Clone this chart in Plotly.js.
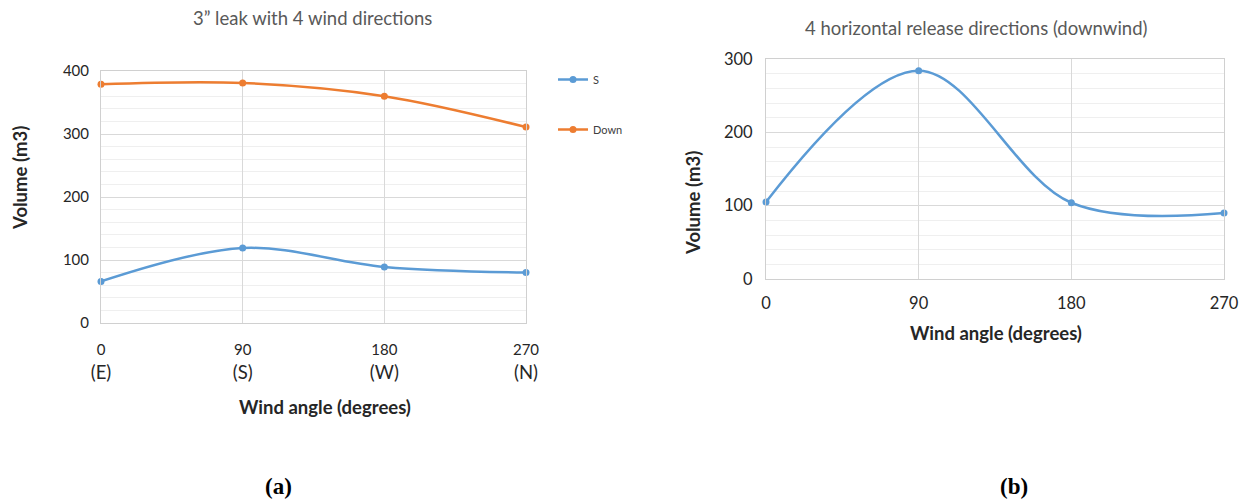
<!DOCTYPE html>
<html><head><meta charset="utf-8">
<script src="https://cdn.plot.ly/plotly-3.0.1.min.js"></script>
<style>html,body{margin:0;padding:0;background:#fff}#c{width:1247px;height:499px}</style>
</head><body><div id="c"></div>
<script>
// Data
const angles = [0, 90, 180, 270];
const angleLabels = ['0', '90', '180', '270'];
const dirLabels = ['(E)', '(S)', '(W)', '(N)'];
const seriesS = [66, 119, 89, 80];
const seriesDown = [379, 381, 360, 311];
const downwind = [105, 284, 104, 90];

const W = 1247, H = 499;
const px = v => v / W, py = v => 1 - v / H;

const FONT = 'Lato, "Open Sans", sans-serif';
const BLUE = '#5B9BD5', ORANGE = '#ED7D31';

const ticktextA = angleLabels.map((a, i) => '<span style="font-size:15px">' + a + '</span><br>' + dirLabels[i]);

const traces = [
  {x: angles, y: seriesS, name: 'S', legendgroup: 'g1', type: 'scatter', mode: 'lines+markers',
   line: {color: BLUE, width: 2.5, shape: 'spline', smoothing: 1}, marker: {color: BLUE, size: 7},
   xaxis: 'x', yaxis: 'y', cliponaxis: false},
  {x: angles, y: seriesDown, name: 'Down', legendgroup: 'g2', type: 'scatter', mode: 'lines+markers',
   line: {color: ORANGE, width: 2.5, shape: 'spline', smoothing: 1}, marker: {color: ORANGE, size: 7},
   xaxis: 'x', yaxis: 'y', cliponaxis: false},
  {x: angles, y: downwind, name: 'Downwind', type: 'scatter', mode: 'lines+markers', showlegend: false,
   line: {color: BLUE, width: 2.5, shape: 'spline', smoothing: 1}, marker: {color: BLUE, size: 7},
   xaxis: 'x2', yaxis: 'y2', cliponaxis: false}
];

const gridC = '#d9d9d9', minorC = '#efefef', lineC = '#d0d0d0';
const tickFontA = {family: FONT, size: 15, color: '#262626'};
const tickFontB = {family: FONT, size: 16.5, color: '#262626'};

const ann = (text, x, y, font, extra) => Object.assign({text, x: px(x), y: py(y), xref: 'paper', yref: 'paper',
  xanchor: 'center', yanchor: 'middle', showarrow: false, font}, extra || {});

const titleFont = {family: FONT, size: 18.5, color: '#595959'};
const axFont = {family: FONT, size: 18.5, color: '#262626'};
const capFont = {family: '"Liberation Serif", "DejaVu Serif", serif', size: 23, color: '#000'};

const layout = {
  width: W, height: H, margin: {l: 0, r: 0, t: 0, b: 0},
  paper_bgcolor: '#fff', plot_bgcolor: '#fff', showlegend: true,
  legend: {x: px(553), y: py(65), xanchor: 'left', yanchor: 'top', tracegroupgap: 31,
           font: {family: FONT, size: 11, color: '#404040'}, itemwidth: 30, bgcolor: 'rgba(0,0,0,0)'},
  xaxis: {domain: [px(101), px(526)], range: [0, 270], tickvals: angles, ticktext: ticktextA,
          showgrid: true, gridcolor: gridC, showline: true, mirror: true, linecolor: lineC,
          zeroline: false, ticks: '', tickfont: {family: FONT, size: 18.5, color: '#262626'},
          ticklabelstandoff: 9, anchor: 'y', fixedrange: true},
  yaxis: {domain: [py(323), py(71)], range: [0, 400], dtick: 100, showgrid: true, gridcolor: gridC,
          minor: {dtick: 20, showgrid: true, gridcolor: minorC}, showline: true, mirror: true, linecolor: lineC,
          zeroline: false, ticks: '', tickfont: tickFontA, ticklabelstandoff: 8, anchor: 'x'},
  xaxis2: {domain: [px(766), px(1224)], range: [0, 270], tickvals: angles, ticktext: angleLabels,
          showgrid: true, gridcolor: gridC, showline: true, mirror: true, linecolor: lineC,
          zeroline: false, ticks: '', tickfont: tickFontB, ticklabelstandoff: 9, anchor: 'y2'},
  yaxis2: {domain: [py(279), py(59)], range: [0, 300], dtick: 100, showgrid: true, gridcolor: gridC,
          minor: {dtick: 20, showgrid: true, gridcolor: minorC}, showline: true, mirror: true, linecolor: lineC,
          zeroline: false, ticks: '', tickfont: tickFontB, ticklabelstandoff: 9, anchor: 'x2'},
  annotations: [
    ann('3\u201d leak with 4 wind directions', 312, 18, titleFont),
    ann('4 horizontal release directions (downwind)', 976, 28, titleFont),
    ann('<b>Volume (m3)</b>', 20, 178, axFont, {textangle: -90}),
    ann('<b>Volume (m3)</b>', 693, 203, axFont, {textangle: -90}),
    ann('<b>Wind angle (degrees)</b>', 325, 407, axFont),
    ann('<b>Wind angle (degrees)</b>', 996, 333, axFont),
    ann('<b>(a)</b>', 278, 486, capFont),
    ann('<b>(b)</b>', 1014, 486, capFont)
  ]
};

Plotly.newPlot('c', traces, layout, {staticPlot: true, displayModeBar: false});
</script></body></html>
